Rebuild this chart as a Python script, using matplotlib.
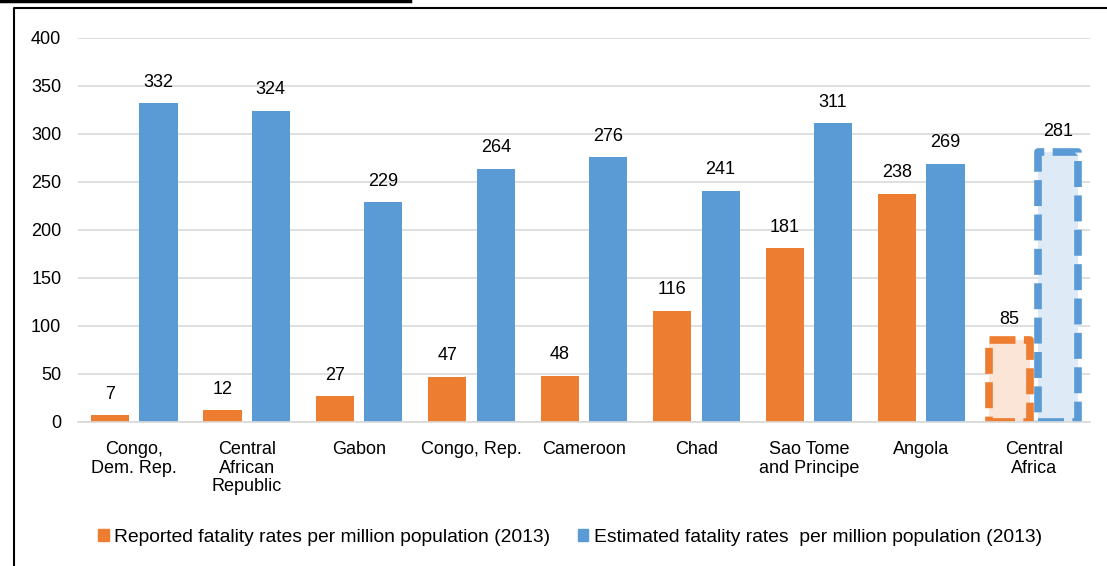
import matplotlib.pyplot as plt
from matplotlib.lines import Line2D
import numpy as np

plt.rcParams['font.family'] = ['Liberation Sans', 'DejaVu Sans']

# fatality rates per million population, 2013
countries = ["Congo,\nDem. Rep.", "Central\nAfrican\nRepublic", "Gabon", "Congo, Rep.",
             "Cameroon", "Chad", "Sao Tome\nand Principe", "Angola", "Central\nAfrica"]
reported = [7, 12, 27, 47, 48, 116, 181, 238, 85]
estimated = [332, 324, 229, 264, 276, 241, 311, 269, 281]

orange = "#ED7D31"
blue = "#5B9BD5"

fig = plt.figure(figsize=(11.07, 5.66), dpi=100)
ax = fig.add_axes([78 / 1107, 1 - 422 / 566, 1012 / 1107, 384 / 566])

x = np.arange(len(countries))
w = 0.34
off = 0.215

# regular bars for the countries, the regional total gets dashed outlines
for i in range(len(countries) - 1):
    ax.bar(x[i] - off, reported[i], w, color=orange, zorder=2)
    ax.bar(x[i] + off, estimated[i], w, color=blue, zorder=2)

last = len(countries) - 1
for val, dx, edge, fill in [(reported[last], -off, orange, "#FBE5D6"),
                            (estimated[last], off, blue, "#DEEBF7")]:
    ax.bar(x[last] + dx, val, 0.36, color=fill, edgecolor=edge, linewidth=5.5,
           linestyle=(0, (3.4, 1.1)), zorder=2, joinstyle="round")

for i in range(len(countries)):
    ax.text(x[i] - off, reported[i] + 13, str(reported[i]), ha="center", va="bottom", fontsize=13)
    ax.text(x[i] + off, estimated[i] + 13, str(estimated[i]), ha="center", va="bottom", fontsize=13)

ax.set_xlim(-0.5, len(countries) - 0.5)
ax.set_ylim(0, 400)
ax.set_yticks(range(0, 401, 50))
ax.yaxis.grid(True, color="#D9D9D9", linewidth=1.2, zorder=0)
ax.set_axisbelow(True)
ax.set_xticks(x)
ax.set_xticklabels(countries, fontsize=13, linespacing=1.1)
ax.tick_params(axis="both", length=0, labelsize=13)
ax.tick_params(axis="x", pad=14)
ax.tick_params(axis="y", pad=12)
for s in ["top", "right", "left"]:
    ax.spines[s].set_visible(False)
ax.spines["bottom"].set_color("#D9D9D9")
ax.spines["bottom"].set_linewidth(1.2)

# legend
handles = [plt.Rectangle((0, 0), 1, 1, color=orange), plt.Rectangle((0, 0), 1, 1, color=blue)]
labels = ["Reported fatality rates per million population (2013)",
          "Estimated fatality rates  per million population (2013)"]
fig.legend(handles, labels, loc="center", bbox_to_anchor=(570 / 1107, 1 - 537 / 566),
           ncol=2, frameon=False, handlelength=0.55, handleheight=0.6,
           handletextpad=0.3, columnspacing=1.4, fontsize=13.9)

# outer frame
fig.add_artist(Line2D([14 / 1107, 14 / 1107, 1], [0, 1 - 8 / 566, 1 - 8 / 566],
                      color="black", linewidth=1.5, transform=fig.transFigure))
fig.add_artist(Line2D([0, 410 / 1107], [1 - 1 / 566, 1 - 1 / 566],
                      color="black", linewidth=2.5, transform=fig.transFigure))

fig.savefig("out.png", dpi=100)
